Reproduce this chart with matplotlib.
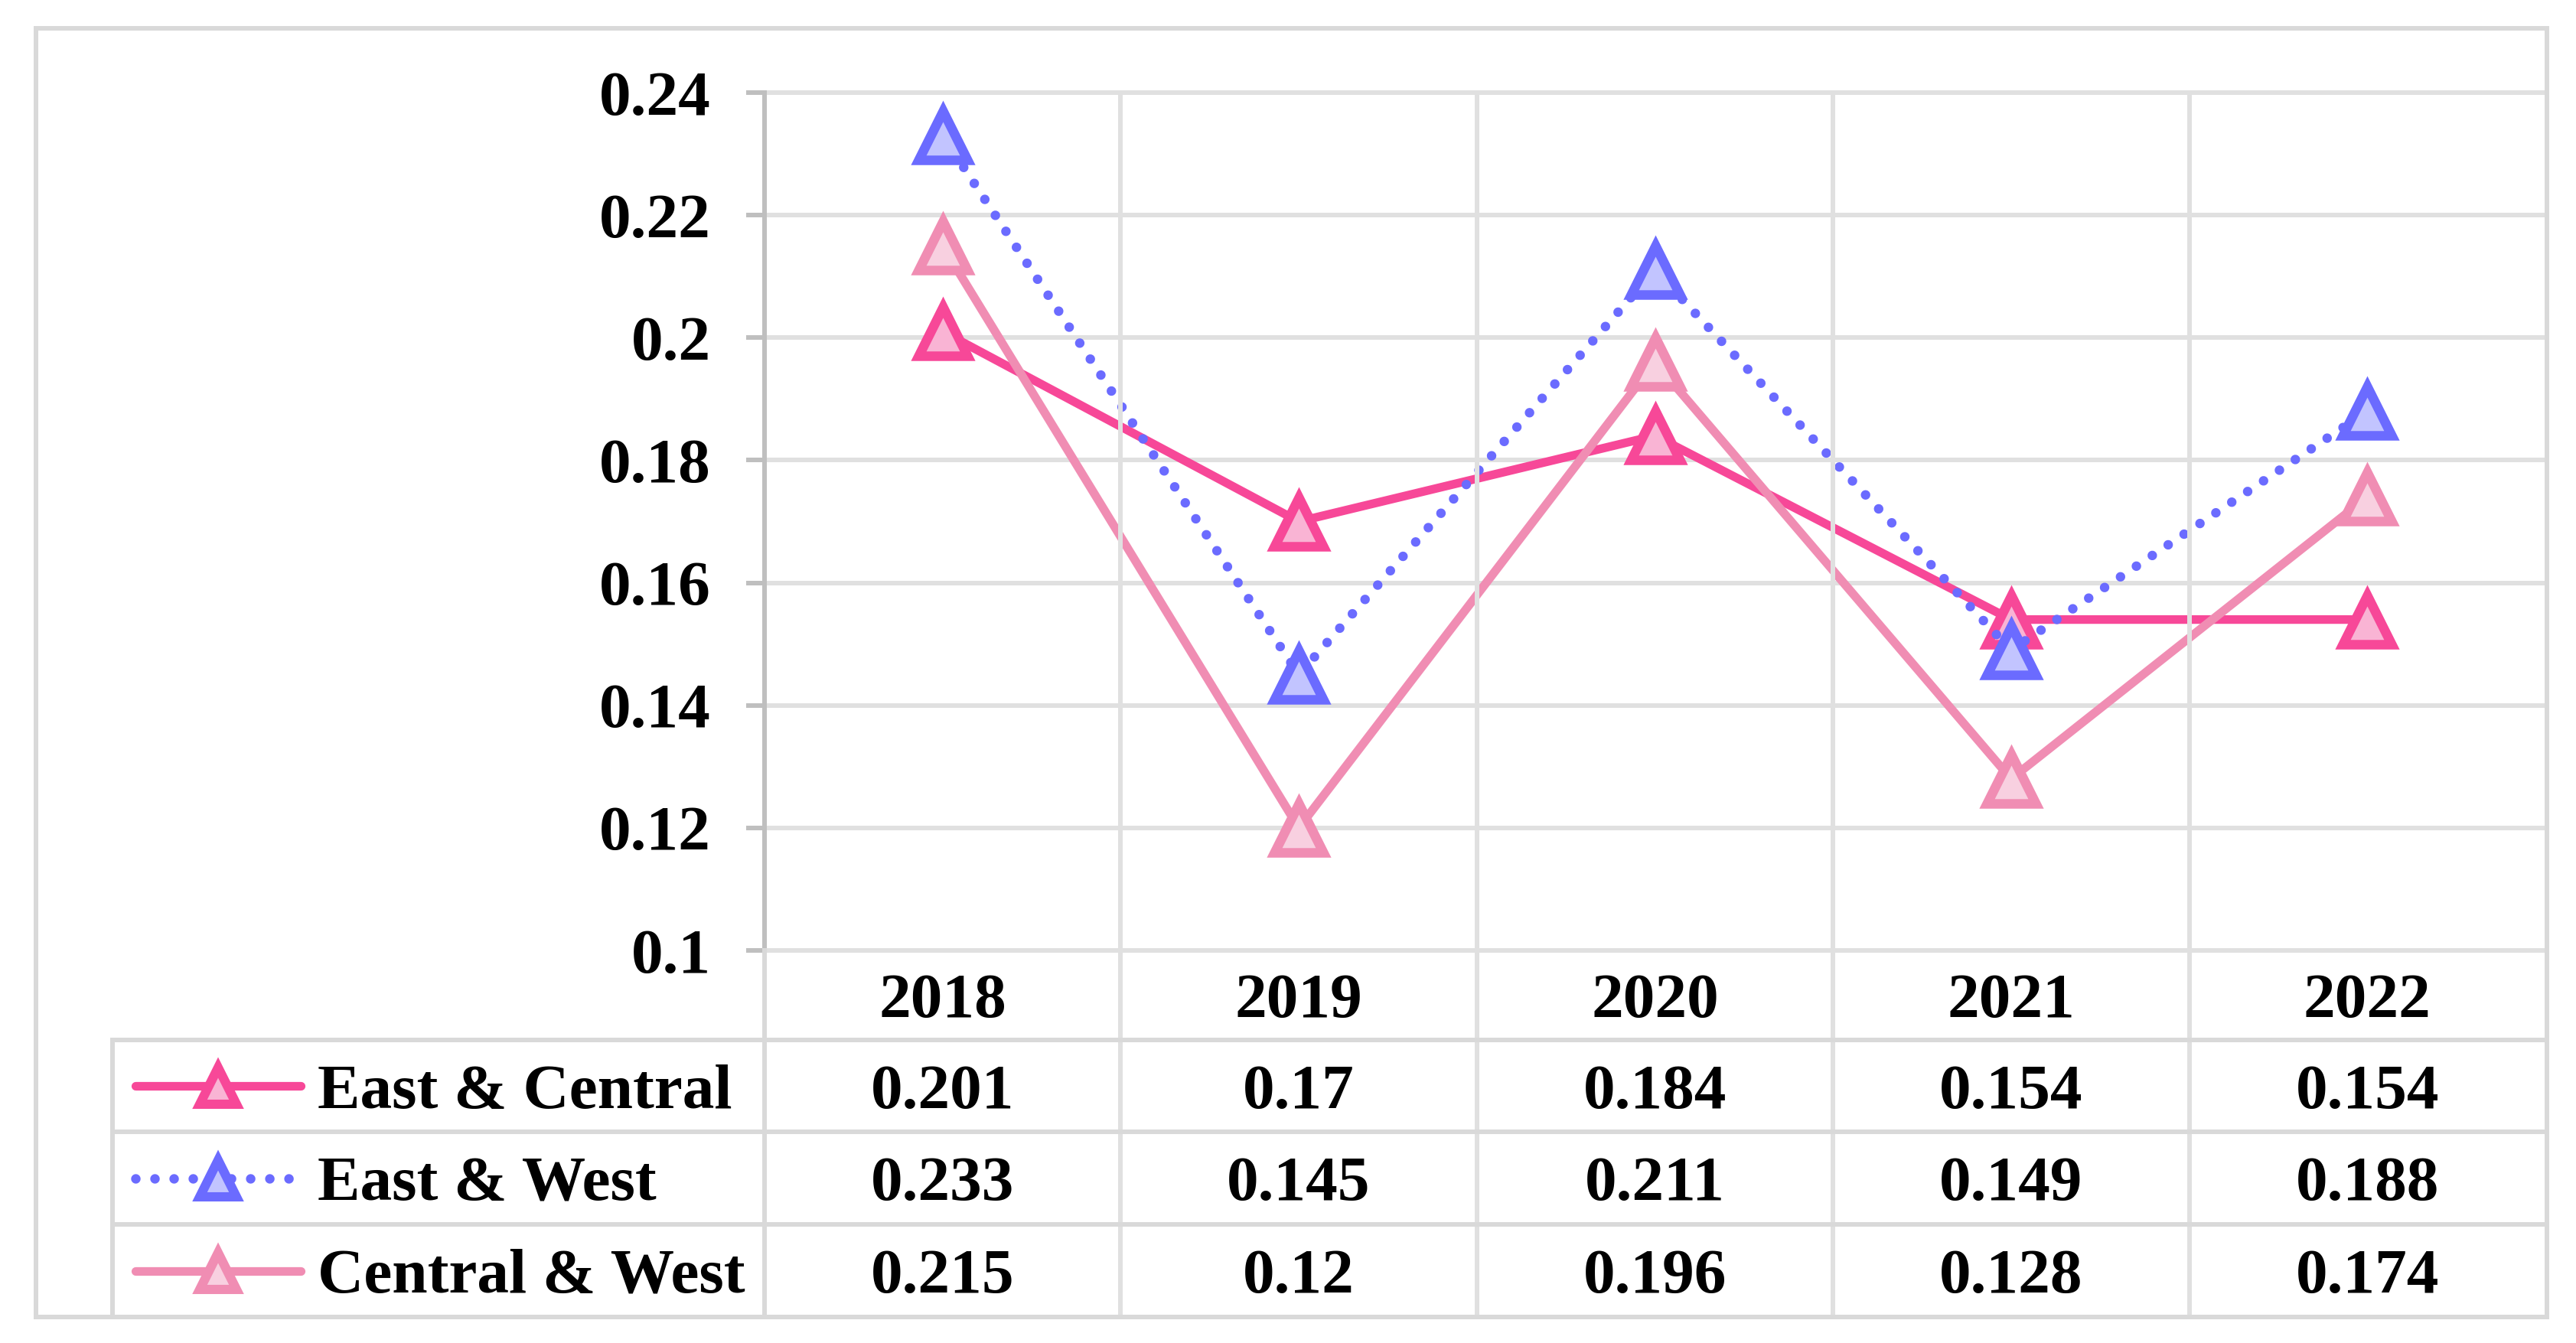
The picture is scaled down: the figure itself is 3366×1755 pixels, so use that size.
import matplotlib
matplotlib.use("Agg")
import matplotlib.pyplot as plt
from matplotlib.lines import Line2D
from matplotlib.patches import Rectangle
from matplotlib.transforms import blended_transform_factory

plt.rcParams['font.family'] = ['Liberation Serif', 'DejaVu Serif']
plt.rcParams['font.weight'] = 'bold'

# ---------------- data ----------------
years = ['2018', '2019', '2020', '2021', '2022']
series_names = ['East & Central', 'East & West', 'Central & West']
east_central = [0.201, 0.17, 0.184, 0.154, 0.154]
east_west = [0.233, 0.145, 0.211, 0.149, 0.188]
central_west = [0.215, 0.12, 0.196, 0.128, 0.174]
value_labels = [
    ['0.201', '0.17', '0.184', '0.154', '0.154'],
    ['0.233', '0.145', '0.211', '0.149', '0.188'],
    ['0.215', '0.12', '0.196', '0.128', '0.174'],
]
yticks = [0.1, 0.12, 0.14, 0.16, 0.18, 0.2, 0.22, 0.24]
ytick_labels = ['0.1', '0.12', '0.14', '0.16', '0.18', '0.2', '0.22', '0.24']

# ---------------- styles ----------------
line_colors = ['#F74898', '#6B6BFF', '#F08DB3']
fill_colors = ['#F9B4D4', '#C2C4FF', '#F8D0E0']
styles = ['-', (0, (0.001, 2.0)), '-']
lws = [2.7, 3.0, 2.7]
GRID = '#E0E0E0'
TBL = '#D9D9D9'
AXC = '#BFBFBF'
FS = 20

W, H = 3366, 1755
DPI = 300
fig = plt.figure(figsize=(W / DPI, H / DPI), dpi=DPI)


def fx(px):
    return px / W


def fy(py):
    return 1 - py / H


ax_l, ax_r, ax_t, ax_b = 999, 3326, 121, 1242
ax = fig.add_axes([fx(ax_l), fy(ax_b), fx(ax_r) - fx(ax_l), fy(ax_t) - fy(ax_b)])
ax.set_xlim(-0.5, len(years) - 0.5)
ax.set_ylim(0.1, 0.24)
ax.set_facecolor('none')

px_lw = 6 * 72 / DPI  # 6 px line width in points

# horizontal gridlines
ax.hlines(yticks, -0.5, len(years) - 0.5, colors=GRID, lw=px_lw, zorder=0.5, clip_on=False)

for sp in ['top', 'right', 'bottom']:
    ax.spines[sp].set_visible(False)
ax.spines['left'].set_color(AXC)
ax.spines['left'].set_linewidth(px_lw)
ax.spines['left'].set_zorder(0.6)

ax.set_yticks(yticks)
ax.set_yticklabels(ytick_labels, fontsize=FS, fontweight='bold')
ax.tick_params(axis='y', length=24 * 72 / DPI, width=px_lw, color=AXC, pad=46 * 72 / DPI)
ax.set_xticks([])

# table geometry (pixels from top)
row_lines = [1359, 1479, 1600, 1721]
tbl_left = 147
btr = blended_transform_factory(ax.transData, fig.transFigure)

# vertical lines at category boundaries
for b in [k + 0.5 for k in range(len(years) - 1)]:
    fig.add_artist(Line2D([b, b], [fy(ax_t), fy(1721)], transform=btr, color=GRID, lw=px_lw, zorder=0.4))
# y-axis continuation through table
fig.add_artist(Line2D([fx(ax_l), fx(ax_l)], [fy(ax_b), fy(1721)], transform=fig.transFigure,
                      color=TBL, lw=px_lw, zorder=0.4))
# table left line
fig.add_artist(Line2D([fx(tbl_left), fx(tbl_left)], [fy(1359), fy(1721)], transform=fig.transFigure,
                      color=TBL, lw=px_lw, zorder=0.4))
# table horizontal lines
for yl in row_lines:
    fig.add_artist(Line2D([fx(tbl_left), fx(ax_r)], [fy(yl), fy(yl)], transform=fig.transFigure,
                          color=TBL, lw=px_lw, zorder=0.4))

# outer border
fig.add_artist(Rectangle((fx(47), fy(1721)), fx(3328) - fx(47), fy(37) - fy(1721),
                         transform=fig.transFigure, fill=False, edgecolor=TBL, lw=px_lw, zorder=0.3))

# series
x = list(range(len(years)))
all_series = [east_central, east_west, central_west]
for i, vals in enumerate(all_series):
    ax.plot(x, vals, linestyle=styles[i], color=line_colors[i], lw=lws[i],
            dash_capstyle='round', solid_capstyle='round', solid_joinstyle='round',
            marker='^', markersize=15.4, markerfacecolor=fill_colors[i],
            markeredgecolor=line_colors[i], markeredgewidth=3.0, clip_on=False, zorder=3 + i)

# header row years
hdr_c = (ax_b + row_lines[0]) / 2
for k, yr in enumerate(years):
    fig.text(k, fy(hdr_c), yr, transform=btr, ha='center', va='center_baseline',
             fontsize=FS, fontweight='bold')

# value rows and legend
for i in range(len(series_names)):
    top = row_lines[i]
    bot = row_lines[i + 1]
    c = (top + bot) / 2
    for k in range(len(years)):
        fig.text(k, fy(c), value_labels[i][k], transform=btr, ha='center', va='center_baseline',
                 fontsize=FS, fontweight='bold')
    # legend sample
    fig.add_artist(Line2D([fx(177), fx(393)], [fy(c), fy(c)], transform=fig.transFigure,
                          linestyle=styles[i], color=line_colors[i], lw=lws[i],
                          dash_capstyle='round', solid_capstyle='round', zorder=3))
    fig.add_artist(Line2D([fx(285)], [fy(c)], transform=fig.transFigure, linestyle='none',
                          marker='^', markersize=11.5, markerfacecolor=fill_colors[i],
                          markeredgecolor=line_colors[i], markeredgewidth=2.9, zorder=4))
    fig.text(fx(415), fy(c), series_names[i], ha='left', va='center_baseline',
             fontsize=FS, fontweight='bold')

fig.savefig('out.png', dpi=DPI, facecolor='white')
